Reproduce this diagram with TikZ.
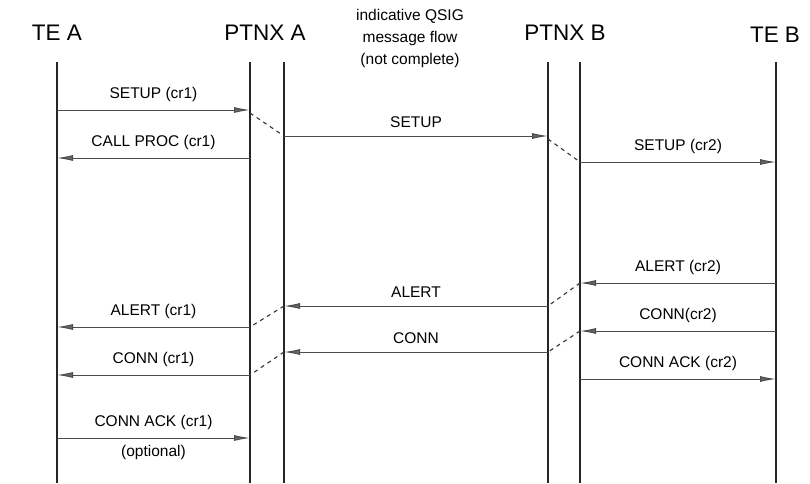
\documentclass[tikz,border=0pt]{standalone}
\usepackage{fontspec}
\setmainfont{Liberation Sans}
\usetikzlibrary{arrows.meta}
\begin{document}
\begin{tikzpicture}[x=1pt,y=-1pt,
  life/.style={line width=2.6pt,draw=black!85},
  msg/.style={line width=1pt,draw=black!70,-{Latex[length=16pt,width=6pt,fill=black!60]}},
  link/.style={line width=1.1pt,draw=black!80,dash pattern=on 4pt off 4pt},
  hdr/.style={font=\fontsize{22.5}{26}\selectfont,inner sep=0pt},
  lbl/.style={font=\fontsize{15.5}{18}\selectfont,inner sep=0pt}]
\useasboundingbox (0,0) rectangle (810,483);
% headers
\node[hdr] (hTEA) at (57,33) {TE A};
\node[hdr] (hPA) at (265,33) {PTNX A};
\node[hdr] (hPB) at (565,33) {PTNX B};
\node[hdr] (hTEB) at (775,35) {TE B};
\node[font=\fontsize{15.5}{22}\selectfont,align=center,inner sep=0pt] (hQ) at (410,38) {indicative QSIG\\message flow\\(not complete)};
% lifelines
\coordinate (a0) at (57,62);  \coordinate (a1) at (57,483);
\coordinate (b0) at (250,62); \coordinate (b1) at (250,483);
\coordinate (c0) at (284,62); \coordinate (c1) at (284,483);
\coordinate (d0) at (548,62); \coordinate (d1) at (548,483);
\coordinate (e0) at (580,62); \coordinate (e1) at (580,483);
\coordinate (f0) at (776,62); \coordinate (f1) at (776,483);
\draw[life] (a0) -- (a1);
\draw[life] (b0) -- (b1);
\draw[life] (c0) -- (c1);
\draw[life] (d0) -- (d1);
\draw[life] (e0) -- (e1);
\draw[life] (f0) -- (f1);
% message endpoints
\coordinate (s1a) at (57,110);  \coordinate (s1b) at (250,110);
\coordinate (cpa) at (57,158);  \coordinate (cpb) at (250,158);
\coordinate (sxa) at (284,136); \coordinate (sxb) at (548,136);
\coordinate (s2a) at (580,162); \coordinate (s2b) at (776,162);
\coordinate (al2a) at (580,283); \coordinate (al2b) at (776,283);
\coordinate (alxa) at (284,306); \coordinate (alxb) at (548,306);
\coordinate (al1a) at (57,327); \coordinate (al1b) at (250,327);
\coordinate (cn2a) at (580,331); \coordinate (cn2b) at (776,331);
\coordinate (cnxa) at (284,352); \coordinate (cnxb) at (548,352);
\coordinate (cn1a) at (57,375); \coordinate (cn1b) at (250,375);
\coordinate (ck2a) at (580,379); \coordinate (ck2b) at (776,379);
\coordinate (ck1a) at (57,438); \coordinate (ck1b) at (250,438);
% messages
\draw[msg] (s1a) -- node[lbl,above=8pt] (l1) {SETUP (cr1)} (s1b);
\draw[msg] (cpb) -- node[lbl,above=8pt] (l2) {CALL PROC (cr1)} (cpa);
\draw[msg] (sxa) -- node[lbl,above=8pt] (l3) {SETUP} (sxb);
\draw[msg] (s2a) -- node[lbl,above=8pt] (l4) {SETUP (cr2)} (s2b);
\draw[msg] (al2b) -- node[lbl,above=8pt] (l5) {ALERT (cr2)} (al2a);
\draw[msg] (alxb) -- node[lbl,above=8pt] (l6) {ALERT} (alxa);
\draw[msg] (al1b) -- node[lbl,above=8pt] (l7) {ALERT (cr1)} (al1a);
\draw[msg] (cn2b) -- node[lbl,above=8pt] (l8) {CONN(cr2)} (cn2a);
\draw[msg] (cnxb) -- node[lbl,above=8pt] (l9) {CONN} (cnxa);
\draw[msg] (cn1b) -- node[lbl,above=8pt] (l10) {CONN (cr1)} (cn1a);
\draw[msg] (ck2a) -- node[lbl,above=8pt] (l11) {CONN ACK (cr2)} (ck2b);
\draw[msg] (ck1a) -- node[lbl,above=8pt] (l12) {CONN ACK (cr1)} (ck1b);
\node[lbl] (opt) at (153.5,452) {(optional)};
% dashed links
\draw[link] (250,113) -- (sxa);
\draw[link] (548,139) -- (s2a);
\draw[link] (al2a) -- (alxb);
\draw[link] (alxa) -- (al1b);
\draw[link] (cn2a) -- (cnxb);
\draw[link] (cnxa) -- (cn1b);
\end{tikzpicture}
\end{document}
